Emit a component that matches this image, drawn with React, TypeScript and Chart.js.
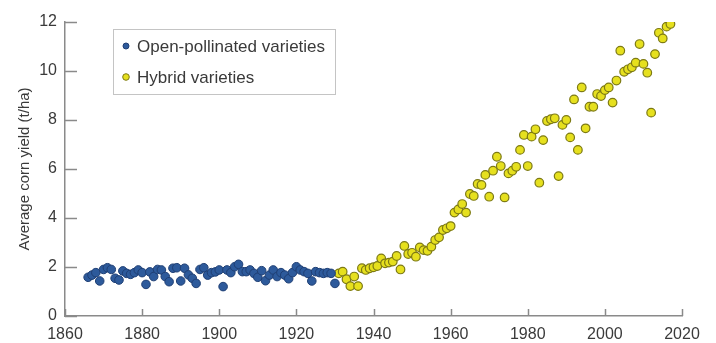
import React, { useEffect, useRef } from "react";
import { Chart, registerables } from "chart.js";

Chart.register(...registerables);

// ---- data ----
const openYears = [
  1866, 1867, 1868, 1869, 1870, 1871, 1872, 1873, 1874, 1875, 1876, 1877, 1878,
  1879, 1880, 1881, 1882, 1883, 1884, 1885, 1886, 1887, 1888, 1889, 1890, 1891,
  1892, 1893, 1894, 1895, 1896, 1897, 1898, 1899, 1900, 1901, 1902, 1903, 1904,
  1905, 1906, 1907, 1908, 1909, 1910, 1911, 1912, 1913, 1914, 1915, 1916, 1917,
  1918, 1919, 1920, 1921, 1922, 1923, 1924, 1925, 1926, 1927, 1928, 1929, 1930,
];
const openYield = [
  1.58, 1.67, 1.77, 1.43, 1.9, 1.97, 1.9, 1.54, 1.47, 1.84, 1.74, 1.7, 1.77,
  1.88, 1.77, 1.29, 1.8, 1.61, 1.9, 1.88, 1.61, 1.4, 1.95, 1.97, 1.43, 1.95,
  1.68, 1.54, 1.33, 1.9, 1.97, 1.67, 1.77, 1.8, 1.88, 1.2, 1.88, 1.77, 2.01,
  2.11, 1.81, 1.81, 1.88, 1.74, 1.58, 1.85, 1.44, 1.67, 1.88, 1.61, 1.77, 1.67,
  1.52, 1.77, 2.01, 1.88, 1.81, 1.74, 1.43, 1.81, 1.77, 1.74, 1.77, 1.74, 1.33,
];

const hybridYears = [
  1931, 1932, 1933, 1934, 1935, 1936, 1937, 1938, 1939, 1940, 1941, 1942, 1943,
  1944, 1945, 1946, 1947, 1948, 1949, 1950, 1951, 1952, 1953, 1954, 1955, 1956,
  1957, 1958, 1959, 1960, 1961, 1962, 1963, 1964, 1965, 1966, 1967, 1968, 1969,
  1970, 1971, 1972, 1973, 1974, 1975, 1976, 1977, 1978, 1979, 1980, 1981, 1982,
  1983, 1984, 1985, 1986, 1987, 1988, 1989, 1990, 1991, 1992, 1993, 1994, 1995,
  1996, 1997, 1998, 1999, 2000, 2001, 2002, 2003, 2004, 2005, 2006, 2007, 2008,
  2009, 2010, 2011, 2012, 2013, 2014, 2015, 2016, 2017,
];
const hybridYield = [
  1.74, 1.81, 1.5, 1.22, 1.61, 1.22, 1.95, 1.88, 1.95, 1.99, 2.04, 2.35, 2.15,
  2.18, 2.22, 2.45, 1.9, 2.86, 2.53, 2.58, 2.42, 2.8, 2.69, 2.66, 2.83, 3.1,
  3.21, 3.51, 3.58, 3.67, 4.22, 4.35, 4.57, 4.22, 4.98, 4.9, 5.39, 5.35, 5.76,
  4.87, 5.93, 6.5, 6.12, 4.84, 5.82, 5.93, 6.09, 6.78, 7.39, 6.12, 7.32, 7.62,
  5.44, 7.18, 7.96, 8.03, 8.07, 5.71, 7.8, 8.0, 7.29, 8.84, 6.78, 9.33, 7.66,
  8.54, 8.54, 9.06, 8.98, 9.22, 9.33, 8.71, 9.61, 10.83, 9.97, 10.07, 10.15, 10.34,
  11.1, 10.29, 9.93, 8.3, 10.69, 11.56, 11.33, 11.81, 11.92,
];

const xTickValues = [1860, 1880, 1900, 1920, 1940, 1960, 1980, 2000, 2020];
const yTickValues = [0, 2, 4, 6, 8, 10, 12];

const seriesLabels = ["Open-pollinated varieties", "Hybrid varieties"];
const yTitle = "Average corn yield (t/ha)";

// ---- styles ----
const FONT = "'Liberation Sans', Arial, Helvetica, sans-serif";
const AXIS_COLOR = "#8a8a8a";
const TEXT_COLOR = "#3a3a3a";
const BLUE_FILL = "#2d5a9b";
const BLUE_EDGE = "#1f3f74";
const YELLOW_FILL = "#e6e01e";
const YELLOW_EDGE = "#7d7a14";

const inwardTicks = {
  id: "inwardTicks",
  beforeDatasetsDraw(chart: any) {
    const { ctx, chartArea, scales } = chart;
    const x = scales.x;
    const y = scales.y;
    ctx.save();
    ctx.strokeStyle = AXIS_COLOR;
    ctx.lineWidth = 1.5;
    x.ticks.forEach((t: any) => {
      const px = Math.round(x.getPixelForValue(t.value)) + 0.5;
      ctx.beginPath();
      ctx.moveTo(px, chartArea.bottom);
      ctx.lineTo(px, chartArea.bottom - 7);
      ctx.stroke();
    });
    y.ticks.forEach((t: any) => {
      const py = Math.round(y.getPixelForValue(t.value)) + 0.5;
      ctx.beginPath();
      ctx.moveTo(chartArea.left, py);
      ctx.lineTo(chartArea.left + 12, py);
      ctx.stroke();
    });
    ctx.restore();
  },
};

const boxLegend = {
  id: "boxLegend",
  afterDraw(chart: any) {
    const { ctx } = chart;
    const left = 113;
    const top = 29;
    const w = 222;
    const h = 65;
    ctx.save();
    ctx.strokeStyle = "#c4c4c4";
    ctx.lineWidth = 1;
    ctx.strokeRect(left + 0.5, top + 0.5, w, h);
    const rows = [46, 77];
    chart.data.datasets.forEach((ds: any, i: number) => {
      const cy = rows[i];
      ctx.beginPath();
      ctx.arc(126, cy, i === 0 ? 3 : 3.3, 0, Math.PI * 2);
      ctx.fillStyle = ds.backgroundColor;
      ctx.fill();
      ctx.lineWidth = 1;
      ctx.strokeStyle = ds.borderColor;
      ctx.stroke();
      ctx.fillStyle = TEXT_COLOR;
      ctx.font = `17px ${FONT}`;
      ctx.textBaseline = "middle";
      ctx.textAlign = "left";
      ctx.fillText(ds.label, 137, cy + 1);
    });
    ctx.restore();
  },
};

export default function App() {
  const ref = useRef<HTMLCanvasElement | null>(null);

  useEffect(() => {
    if (!ref.current) return;
    const chart = new Chart(ref.current, {
      type: "scatter",
      data: {
        datasets: [
          {
            label: seriesLabels[0],
            data: openYears.map((yr, i) => ({ x: yr, y: openYield[i] })),
            backgroundColor: BLUE_FILL,
            borderColor: BLUE_EDGE,
            borderWidth: 1,
            pointRadius: 4.3,
          },
          {
            label: seriesLabels[1],
            data: hybridYears.map((yr, i) => ({ x: yr, y: hybridYield[i] })),
            backgroundColor: YELLOW_FILL,
            borderColor: YELLOW_EDGE,
            borderWidth: 1.2,
            pointRadius: 4.3,
          },
        ],
      },
      options: {
        animation: false,
        responsive: false,
        devicePixelRatio: 1,
        layout: { padding: { top: 22, right: 34, left: 0, bottom: 0 } },
        plugins: {
          legend: { display: false },
          tooltip: { enabled: false },
        },
        scales: {
          x: {
            type: "linear",
            min: 1860,
            max: 2020,
            afterBuildTicks: (s: any) => {
              s.ticks = xTickValues.map((v) => ({ value: v }));
            },
            afterFit: (s: any) => {
              s.height = 27;
            },
            grid: { display: false, drawTicks: false },
            border: { display: true, color: AXIS_COLOR, width: 1.5 },
            ticks: {
              padding: 9,
              color: TEXT_COLOR,
              font: { family: FONT, size: 16 },
              callback: (v: any) => String(v),
              maxRotation: 0,
              autoSkip: false,
            },
          },
          y: {
            type: "linear",
            min: 0,
            max: 12,
            afterBuildTicks: (s: any) => {
              s.ticks = yTickValues.map((v) => ({ value: v }));
            },
            afterFit: (s: any) => {
              s.width = 65;
            },
            grid: { display: false, drawTicks: false },
            border: { display: true, color: AXIS_COLOR, width: 1.5 },
            ticks: {
              padding: 8,
              color: TEXT_COLOR,
              font: { family: FONT, size: 16 },
              callback: (v: any) => String(v),
              autoSkip: false,
            },
            title: {
              display: true,
              text: yTitle,
              color: TEXT_COLOR,
              font: { family: FONT, size: 15 },
              padding: { top: 16, bottom: 0 },
            },
          },
        },
      },
      plugins: [inwardTicks, boxLegend],
    });
    return () => chart.destroy();
  }, []);

  return (
    <div style={{ position: "fixed", left: 0, top: 0, width: 716, height: 343, background: "#fff" }}>
      <canvas ref={ref} width={716} height={343} style={{ display: "block", width: 716, height: 343 }} />
    </div>
  );
}
